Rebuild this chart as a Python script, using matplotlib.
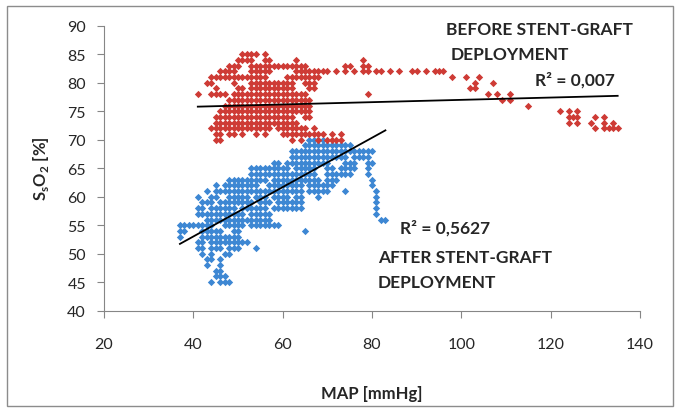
"""SsO2 vs MAP scatter, before / after stent-graft deployment."""

import matplotlib
matplotlib.use("Agg")
import matplotlib.pyplot as plt
from matplotlib.patches import Rectangle

plt.rcParams["font.family"] = ["Lato", "DejaVu Sans"]
plt.rcParams["mathtext.fontset"] = "custom"
plt.rcParams["mathtext.rm"] = "Lato:bold"
plt.rcParams["mathtext.bf"] = "Lato:bold"

RED = "#CE3B35"
BLUE = "#3D87D3"
AXIS_GRAY = "#868686"
TEXT = "#262626"

# before deployment: (SsO2 row, MAP values)
before_rows = [
    (85, [51, 52, 53, 54, 56]),
    (84, [50, 51, 52, 53, 56, 57, 63, 78]),
    (83, [48, 49, 50, 53, 54, 55, 56, 57, 58, 59, 60, 61, 62, 63, 64, 65,
          74, 75, 78, 79]),
    (82, [46, 47, 48, 49, 53, 54, 55, 56, 57, 63, 64, 65, 66, 67, 68, 69, 70,
          72, 74, 76, 78, 79, 81, 82, 84, 86, 89, 90, 92, 94, 95, 96]),
    (81, [44, 45, 46, 47, 48, 49, 50, 51, 52, 53, 54, 55, 56, 61, 62, 63, 64,
          65, 66, 67, 68, 98, 101, 104]),
    (80, [43, 44, 49, 53, 54, 55, 56, 57, 58, 59, 60, 61, 62, 65, 66, 67,
          103, 107]),
    (79, [45, 50, 51, 53, 54, 55, 56, 57, 58, 59, 60, 61, 62, 66, 67,
          102, 103]),
    (78, [41, 44, 45, 46, 47, 49, 50, 51, 52, 53, 54, 55, 56, 57, 58, 59, 60,
          61, 62, 63, 64, 65, 79, 106, 108, 111]),
    (77, [48, 49, 50, 51, 52, 53, 54, 55, 56, 57, 58, 59, 60, 61, 62, 63, 64,
          65, 66, 109, 111]),
    (76, [47, 48, 49, 50, 51, 52, 53, 54, 55, 56, 57, 58, 59, 60, 61, 62, 63,
          64, 65, 66, 115]),
    (75, [46, 47, 48, 49, 50, 51, 52, 53, 54, 55, 56, 57, 58, 59, 60, 61, 62,
          63, 64, 65, 66, 122, 124, 126]),
    (74, [45, 46, 47, 48, 49, 50, 51, 52, 53, 54, 55, 56, 57, 58, 59, 60, 61,
          62, 65, 66, 124, 125, 126, 130, 132]),
    (73, [45, 46, 47, 48, 49, 50, 51, 52, 53, 54, 55, 56, 57, 58, 59, 60, 61,
          62, 63, 124, 126, 129, 132, 134]),
    (72, [44, 45, 46, 47, 48, 49, 50, 51, 52, 53, 54, 55, 56, 57, 59, 60, 61,
          62, 63, 64, 65, 67, 130, 132, 133, 134, 135]),
    (71, [45, 46, 48, 49, 51, 54, 56, 60, 61, 62, 63, 64, 65, 66, 67, 68, 69,
          71, 73]),
    (70, [45, 46, 62, 64, 68, 70, 71, 72, 73]),
]

# after deployment
after_rows = [
    (70, [66, 67, 68, 69]),
    (69, [65, 66, 67, 68, 69, 70, 71, 72, 73, 74, 75]),
    (68, [62, 63, 64, 65, 66, 67, 68, 69, 70, 71, 72, 73, 74, 75, 76, 77, 78,
          79, 80]),
    (67, [62, 63, 64, 65, 66, 67, 68, 69, 70, 71, 72, 73, 74, 76, 77, 78,
          79]),
    (66, [58, 59, 61, 62, 63, 64, 65, 66, 67, 68, 69, 70, 74, 75, 76, 79, 80]),
    (65, [53, 54, 55, 56, 57, 58, 59, 60, 61, 63, 64, 65, 66, 67, 70, 71, 73,
          74, 75, 76, 79]),
    (64, [53, 54, 55, 56, 57, 58, 59, 60, 61, 62, 63, 64, 65, 66, 67, 70, 71,
          72, 73, 74, 75, 79]),
    (63, [48, 49, 50, 51, 52, 53, 54, 55, 56, 58, 59, 60, 61, 62, 63, 64, 65,
          66, 67, 68, 70, 71, 72, 80]),
    (62, [45, 47, 48, 49, 50, 51, 52, 53, 54, 57, 58, 59, 60, 61, 62, 63, 64,
          66, 67, 68, 69, 70, 71, 80]),
    (61, [43, 45, 46, 47, 48, 49, 50, 51, 52, 53, 54, 55, 56, 57, 58, 59, 60,
          61, 62, 63, 64, 66, 67, 68, 69, 70, 74, 81]),
    (60, [41, 44, 45, 48, 49, 50, 51, 52, 54, 55, 56, 58, 59, 60, 61, 63, 64,
          68, 81]),
    (59, [42, 43, 44, 46, 47, 48, 49, 50, 51, 52, 53, 55, 56, 57, 59, 60, 61,
          62, 63, 64, 81]),
    (58, [41, 42, 44, 45, 46, 47, 48, 49, 51, 52, 53, 54, 55, 56, 58, 59, 60,
          61, 62, 63, 64, 81]),
    (57, [41, 42, 43, 44, 45, 46, 47, 48, 49, 50, 51, 53, 54, 55, 56, 57, 81]),
    (56, [43, 44, 45, 46, 47, 48, 49, 50, 51, 52, 53, 54, 55, 56, 57, 82, 83]),
    (55, [37, 38, 39, 40, 41, 42, 43, 44, 47, 48, 49, 50, 51, 53, 54, 55, 56,
          57, 58, 59]),
    (54, [37, 38, 42, 43, 44, 45, 46, 49, 50, 65]),
    (53, [37, 42, 43, 44, 45, 46, 47, 48, 49, 50]),
    (52, [41, 42, 44, 45, 46, 47, 48, 49, 50, 51, 52]),
    (51, [41, 42, 44, 45, 46, 48, 49, 50, 54]),
    (50, [42, 44, 47, 48]),
    (49, [43, 44, 46]),
    (48, [43, 46]),
    (47, [45, 46]),
    (46, [45, 46, 47]),
    (45, [44, 46, 47, 48]),
]

# linear trendlines as printed by the spreadsheet (slope, intercept)
before_trend = [0.0202, 74.97]
after_trend = [0.433, 35.7]

x_ticks = [20, 40, 60, 80, 100, 120, 140]
y_ticks = [40, 45, 50, 55, 60, 65, 70, 75, 80, 85, 90]


def flatten(rows):
    xs, ys = [], []
    for y, row in rows:
        xs.extend(row)
        ys.extend([y] * len(row))
    return xs, ys


bx, by = flatten(before_rows)
ax_, ay = flatten(after_rows)

fig = plt.figure(figsize=(6.8, 4.14), dpi=100)
ax = fig.add_axes([104 / 680, 1 - 311.7 / 414, 536 / 680, 285 / 414])

ax.scatter(ax_, ay, marker="D", s=14, color=BLUE, linewidths=0, zorder=2)
ax.scatter(bx, by, marker="D", s=14, color=RED, linewidths=0, zorder=2)

for xs, (k, b) in [(bx, before_trend), (ax_, after_trend)]:
    x0, x1 = min(xs), max(xs)
    ax.plot([x0, x1], [k * x0 + b, k * x1 + b], color="black", lw=1.3, zorder=3)

ax.set_xlim(20, 140)
ax.set_ylim(40, 90)
ax.set_xticks(x_ticks)
ax.set_yticks(y_ticks)
ax.tick_params(colors=AXIS_GRAY, labelcolor=TEXT, labelsize=11.5, length=5)
ax.tick_params(axis="x", pad=14)
ax.tick_params(axis="y", pad=8)
for side in ["top", "right"]:
    ax.spines[side].set_visible(False)
for side in ["left", "bottom"]:
    ax.spines[side].set_color(AXIS_GRAY)

ax.set_xlabel("MAP [mmHg]", fontsize=12, fontweight="bold", color=TEXT)
ax.xaxis.set_label_coords(0.5, -0.26)
ax.set_ylabel(r"S$_\mathrm{s}$O$_\mathrm{2}$ [%]", fontsize=12,
              fontweight="bold", color=TEXT)
ax.yaxis.set_label_coords(-0.099, 0.5)

label_kw = dict(fontsize=12.5, fontweight="bold", color=TEXT, ha="left",
                va="center")
ax.text(96.6, 89.4, "BEFORE STENT-GRAFT", **label_kw)
ax.text(97.5, 85.0, "DEPLOYMENT", **label_kw)
ax.text(116.5, 80.6, "R² = 0,007", **label_kw)
ax.text(86.3, 54.7, "R² = 0,5627", **label_kw)
ax.text(81.3, 49.4, "AFTER STENT-GRAFT", **label_kw)
ax.text(81.3, 45.0, "DEPLOYMENT", **label_kw)

# chart area border
fig.patches.append(Rectangle((7 / 680, 1 - 407 / 414), 666 / 680, 400 / 414,
                             transform=fig.transFigure, fill=False,
                             edgecolor="#8C8C8C", lw=1))

fig.savefig("out.png", dpi=100)
